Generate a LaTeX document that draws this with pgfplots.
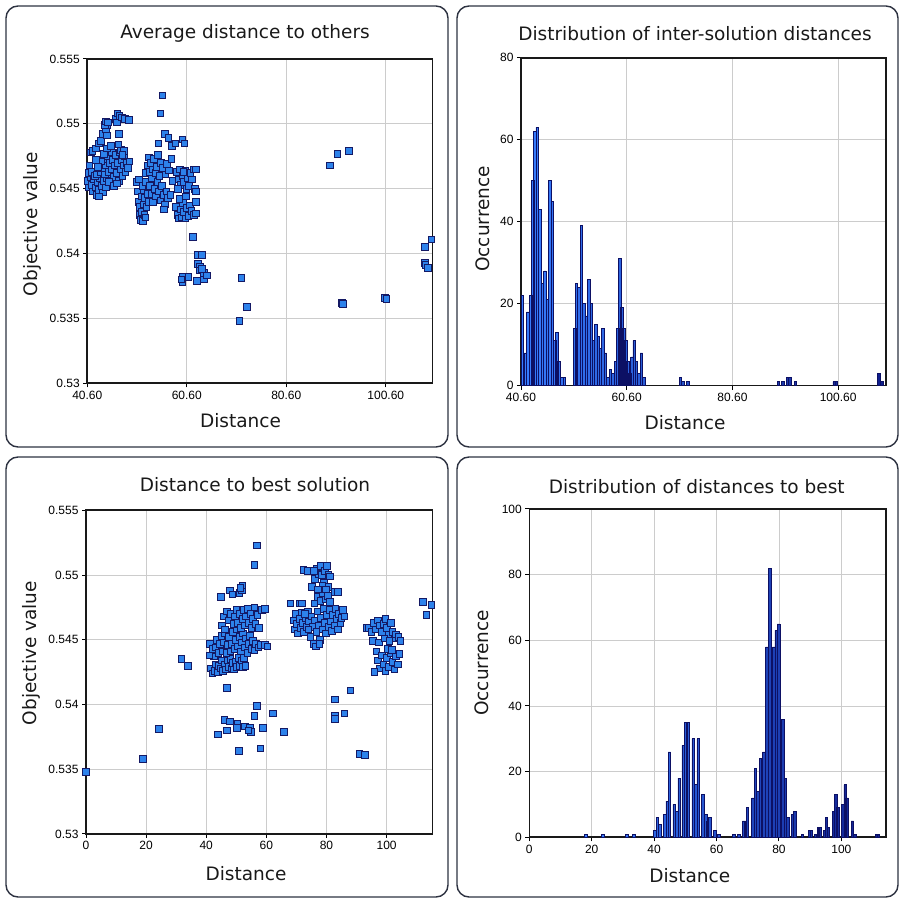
\documentclass[border=0pt]{standalone}
\usepackage{fontspec}
\setmainfont{DejaVu Sans}
\newfontfamily\tickfont{Liberation Sans}
\usepackage{pgfplots}
\pgfplotsset{compat=1.18}

\definecolor{ptfill}{RGB}{45,130,235}
\definecolor{ptedge}{RGB}{20,25,100}
\definecolor{barlight}{RGB}{55,125,255}
\definecolor{bardark}{RGB}{15,30,140}
\definecolor{baredge}{RGB}{12,16,100}
\definecolor{framec}{RGB}{45,50,65}

\pgfplotsset{
  panel/.style={
    scale only axis,
    anchor=south west,
    axis line style={line width=1.6pt, black!90},
    grid=major,
    grid style={line width=0.9pt, gray!40},
    xtick pos=bottom, ytick pos=left,
    tick align=outside,
    major tick length=4pt,
    tick style={line width=1pt, black},
    tick label style={font=\tickfont\fontsize{12}{13}\selectfont},
  },
  objy/.style={
    ymin=0.53, ymax=0.555,
    ytick={0.53,0.535,0.54,0.545,0.55,0.555},
    yticklabels={0.53,0.535,0.54,0.545,0.55,0.555},
  },
  pts/.style={only marks, mark=square*, mark size=3.3pt,
    mark options={fill=ptfill, draw=ptedge, line width=0.9pt}},
  bars/.style={ybar, draw=baredge, line width=0.7pt,
    left color=barlight, right color=bardark},
}
\tikzset{lab/.style={font=\fontsize{18.5}{20}\selectfont, black!90}}

\begin{document}
\begin{tikzpicture}[x=1pt,y=1pt]
\useasboundingbox (0,0) rectangle (900,900);

% panel frames
\draw[framec, line width=1.4pt, rounded corners=12pt] (6,453) rectangle (448,894);
\draw[framec, line width=1.4pt, rounded corners=12pt] (457,453) rectangle (898,894);
\draw[framec, line width=1.4pt, rounded corners=12pt] (6,3) rectangle (448,443);
\draw[framec, line width=1.4pt, rounded corners=12pt] (457,3) rectangle (898,443);

% ---------- top left: average distance to others
\begin{axis}[panel, objy, at={(87.3pt,516.7pt)}, width=345pt, height=324.3pt,
  xmin=40.6, xmax=109.95,
  xtick={40.6,60.6,80.6,100.6}, xticklabels={40.60,60.60,80.60,100.60},
  clip=false]
\addplot[pts] table {
x y
40.7 0.5456
40.9 0.5451
41.2 0.5459
41.4 0.5453
41.7 0.5448
41.9 0.5457
42.2 0.5451
42.4 0.5445
42.7 0.5455
42.9 0.5449
43.2 0.5458
43.5 0.5452
43.8 0.5447
44.0 0.5456
40.8 0.5462
41.5 0.5463
42.1 0.5460
42.6 0.5461
43.3 0.5463
44.3 0.5451
44.6 0.5458
43.0 0.5444
41.0 0.5468
41.3 0.5478
43.6 0.5466
43.9 0.5472
44.2 0.5461
44.4 0.5468
44.7 0.5475
44.9 0.5463
45.1 0.5470
45.3 0.5456
45.5 0.5478
45.6 0.5465
45.8 0.5472
46.0 0.5459
46.2 0.5468
46.4 0.5476
46.6 0.5462
46.8 0.5470
47.0 0.5456
47.1 0.5478
47.3 0.5465
47.5 0.5472
47.7 0.5460
47.9 0.5468
48.1 0.5475
48.3 0.5463
48.5 0.5470
48.8 0.5466
49.1 0.5471
44.0 0.5477
44.5 0.5481
45.0 0.5455
45.9 0.5452
46.5 0.5454
47.4 0.5480
48.0 0.5479
43.4 0.5471
42.8 0.5467
42.3 0.5472
45.4 0.5483
46.9 0.5484
47.7 0.5476
41.6 0.5479
42.3 0.5481
42.9 0.5485
43.3 0.5487
43.8 0.5492
44.5 0.5491
44.3 0.5496
44.6 0.5499
44.1 0.5499
44.3 0.5502
44.8 0.5501
47.0 0.5492
46.4 0.5504
46.7 0.5508
47.1 0.5506
46.5 0.5501
47.6 0.5505
48.2 0.5504
49.0 0.5503
50.5 0.5455
50.8 0.5448
51.0 0.5457
50.9 0.5440
51.2 0.5436
51.1 0.5430
51.4 0.5426
51.6 0.5432
51.8 0.5425
51.5 0.5444
51.9 0.5438
52.1 0.5430
52.3 0.5428
52.0 0.5449
52.2 0.5443
52.5 0.5436
51.7 0.5452
52.4 0.5455
52.7 0.5446
52.9 0.5440
52.3 0.5462
52.7 0.5468
53.0 0.5474
53.2 0.5463
53.4 0.5470
53.6 0.5458
53.8 0.5465
54.0 0.5473
54.3 0.5462
54.6 0.5467
53.2 0.5452
53.5 0.5446
53.8 0.5440
54.1 0.5450
54.4 0.5444
54.7 0.5455
55.0 0.5448
55.3 0.5441
55.6 0.5452
55.9 0.5445
56.2 0.5438
56.5 0.5448
56.8 0.5443
57.3 0.5445
55.1 0.5460
55.4 0.5470
55.8 0.5466
56.3 0.5461
56.6 0.5469
57.0 0.5464
57.5 0.5473
54.8 0.5476
57.7 0.5456
56.0 0.5434
55.7 0.5522
55.3 0.5508
56.2 0.5492
56.9 0.5489
54.9 0.5485
57.6 0.5483
58.3 0.5485
58.6 0.5463
58.9 0.5457
59.2 0.5465
59.4 0.5453
59.7 0.5460
60.0 0.5455
60.3 0.5464
60.5 0.5450
60.8 0.5458
61.0 0.5452
61.3 0.5462
58.8 0.5450
59.9 0.5463
61.6 0.5457
62.0 0.5465
62.4 0.5465
62.2 0.5450
58.4 0.5436
58.7 0.5430
59.0 0.5427
59.3 0.5434
59.5 0.5428
59.8 0.5439
60.0 0.5432
60.3 0.5427
60.6 0.5435
60.9 0.5429
59.1 0.5442
60.4 0.5444
61.2 0.5437
61.5 0.5433
62.0 0.5430
62.4 0.5431
62.4 0.5440
62.5 0.5448
59.7 0.5488
60.1 0.5485
61.8 0.5413
59.7 0.5382
59.7 0.5378
60.9 0.5382
62.6 0.5379
59.5 0.5380
62.8 0.5399
63.6 0.5399
62.8 0.5392
63.2 0.5390
63.3 0.5387
64.0 0.5385
64.1 0.5380
64.6 0.5383
63.7 0.5388
71.6 0.5381
72.7 0.5359
71.2 0.5348
89.4 0.5468
90.9 0.5477
93.2 0.5479
91.8 0.5362
92.0 0.5361
100.4 0.5366
100.7 0.5365
108.5 0.5405
109.8 0.5411
108.5 0.5393
108.6 0.5391
109.1 0.5389
};
\end{axis}

% ---------- top right: distribution of inter-solution distances
\begin{axis}[panel, at={(521pt,514.3pt)}, width=364.7pt, height=328pt,
  xmin=40.6, xmax=109.6, ymin=0, ymax=80,
  xtick={40.6,60.6,80.6,100.6}, xticklabels={40.60,60.60,80.60,100.60},
  ytick={0,20,40,60,80}, yticklabels={0,20,40,60,80},
  bar width=0.47]
\addplot[bars] table {
x h
40.88 22
41.42 8
41.92 18
42.43 22
42.87 50
43.25 62
43.66 63
44.13 43
44.64 25
45.14 28
45.58 21
46.03 50
46.53 45
46.97 11
47.35 13
47.79 6
48.30 2
48.80 2
50.76 14
51.10 25
51.55 24
52.02 39
52.49 20
52.93 17
53.41 26
53.88 20
54.29 11
54.73 15
55.21 12
55.65 9
56.09 14
56.56 8
57.07 2
57.51 4
57.95 3
58.45 6
58.90 14
59.28 31
59.69 19
60.10 14
60.47 11
60.85 6
61.23 3
61.61 7
62.02 11
62.46 6
62.90 3
63.38 8
63.88 2
70.79 2
71.23 1
72.21 1
89.31 1
90.16 1
91.00 2
91.45 2
92.52 1
99.85 1
100.30 1
108.30 3
108.86 1
};
\end{axis}

% ---------- bottom left: distance to best solution
\begin{axis}[panel, objy, at={(86pt,66pt)}, width=346.3pt, height=323.7pt,
  xmin=0, xmax=115.2,
  xtick={0,20,40,60,80,100}, xticklabels={0,20,40,60,80,100},
  clip=false]
\addplot[pts] table {
x y
0.0 0.5348
19.0 0.5358
24.2 0.5381
31.8 0.5435
33.9 0.5430
41.3 0.5447
42.0 0.5443
42.5 0.5437
41.5 0.5428
42.0 0.5424
42.8 0.5426
43.3 0.5431
43.8 0.5425
44.3 0.5430
44.8 0.5428
45.2 0.5434
45.6 0.5426
46.0 0.5431
46.5 0.5427
47.0 0.5434
47.5 0.5429
48.0 0.5435
48.4 0.5428
48.9 0.5432
49.3 0.5427
49.8 0.5433
50.3 0.5429
50.7 0.5436
51.2 0.5430
51.7 0.5434
52.2 0.5429
52.6 0.5436
53.1 0.5430
43.0 0.5444
43.6 0.5450
44.1 0.5440
44.6 0.5447
45.0 0.5453
45.4 0.5441
45.9 0.5448
46.3 0.5455
46.7 0.5440
47.1 0.5446
47.6 0.5452
48.0 0.5441
48.5 0.5447
48.9 0.5456
49.4 0.5443
49.8 0.5450
50.2 0.5458
50.6 0.5445
51.0 0.5452
51.5 0.5441
51.9 0.5448
52.3 0.5455
52.8 0.5444
53.2 0.5451
53.7 0.5440
54.1 0.5447
54.6 0.5453
55.0 0.5443
55.5 0.5449
56.0 0.5442
56.6 0.5447
57.3 0.5444
58.0 0.5446
59.5 0.5446
60.3 0.5445
45.3 0.5461
45.7 0.5468
46.2 0.5458
46.8 0.5472
47.5 0.5465
48.2 0.5470
49.0 0.5462
49.5 0.5468
50.0 0.5473
50.5 0.5463
51.0 0.5470
51.5 0.5459
52.0 0.5466
52.4 0.5473
52.9 0.5461
53.3 0.5468
53.8 0.5474
54.2 0.5463
54.7 0.5470
55.1 0.5459
55.6 0.5466
56.0 0.5475
56.4 0.5462
57.0 0.5469
57.5 0.5459
58.6 0.5473
59.5 0.5474
44.8 0.5483
47.9 0.5488
48.7 0.5485
51.0 0.5486
51.8 0.5488
52.0 0.5492
51.4 0.5490
41.0 0.5438
46.8 0.5413
56.9 0.5523
56.1 0.5508
46.0 0.5388
47.9 0.5387
46.8 0.5380
50.4 0.5385
50.3 0.5382
52.9 0.5383
54.6 0.5382
54.8 0.5379
54.0 0.5380
43.9 0.5377
50.8 0.5364
58.0 0.5366
56.9 0.5399
56.0 0.5391
62.1 0.5393
65.9 0.5379
58.9 0.5382
68.0 0.5478
71.2 0.5478
71.9 0.5478
72.3 0.5504
73.6 0.5503
69.0 0.5465
69.4 0.5458
69.8 0.5470
70.2 0.5462
70.6 0.5455
71.0 0.5466
71.4 0.5459
71.8 0.5471
72.2 0.5463
72.6 0.5456
73.0 0.5467
73.4 0.5460
73.8 0.5472
74.2 0.5464
74.6 0.5452
75.0 0.5468
75.4 0.5460
75.8 0.5447
76.2 0.5465
76.6 0.5456
77.0 0.5472
77.4 0.5461
77.8 0.5450
78.2 0.5467
78.6 0.5458
79.0 0.5474
79.4 0.5463
79.8 0.5455
80.2 0.5469
80.6 0.5460
81.0 0.5473
81.4 0.5464
81.8 0.5457
82.2 0.5469
82.6 0.5461
83.0 0.5474
83.4 0.5466
83.8 0.5458
84.2 0.5470
84.6 0.5463
85.0 0.5467
85.4 0.5473
86.0 0.5468
76.0 0.5478
77.2 0.5483
78.0 0.5480
78.8 0.5486
79.6 0.5481
80.4 0.5484
81.2 0.5479
76.5 0.5445
77.6 0.5447
72.8 0.5470
74.0 0.5458
75.1 0.5491
76.2 0.5497
76.9 0.5505
77.5 0.5501
78.2 0.5507
78.5 0.5500
79.1 0.5494
79.5 0.5503
80.1 0.5507
80.6 0.5500
81.2 0.5499
82.8 0.5487
83.9 0.5487
78.7 0.5492
80.6 0.5491
77.2 0.5489
79.9 0.5489
75.9 0.5503
82.9 0.5404
82.9 0.5391
82.9 0.5389
86.0 0.5393
88.0 0.5411
90.9 0.5362
92.8 0.5361
93.4 0.5459
94.2 0.5459
95.0 0.5456
95.8 0.5463
96.5 0.5458
97.1 0.5465
97.8 0.5461
98.4 0.5456
99.0 0.5462
99.6 0.5466
100.2 0.5459
100.8 0.5454
101.4 0.5463
102.0 0.5456
102.6 0.5451
103.2 0.5454
104.0 0.5452
104.6 0.5449
95.5 0.5449
97.5 0.5448
99.3 0.5451
101.0 0.5449
96.6 0.5441
97.2 0.5434
97.8 0.5428
98.4 0.5438
99.0 0.5431
99.6 0.5426
100.2 0.5436
100.8 0.5429
101.4 0.5440
102.0 0.5433
102.6 0.5427
103.2 0.5437
103.7 0.5431
104.3 0.5439
100.5 0.5443
101.8 0.5442
95.9 0.5425
112.0 0.5479
114.9 0.5477
113.2 0.5469
};
\end{axis}

% ---------- bottom right: distribution of distances to best
\begin{axis}[panel, at={(529.3pt,62.7pt)}, width=356.4pt, height=328.3pt,
  xmin=0, xmax=114.2, ymin=0, ymax=100,
  xtick={0,20,40,60,80,100}, xticklabels={0,20,40,60,80,100},
  ytick={0,20,40,60,80,100}, yticklabels={0,20,40,60,80,100},
  bar width=0.8]
\addplot[bars] table {
x h
18.1 1
23.6 1
31.3 1
33.5 1
40.2 2
41.1 6
41.8 4
43.4 7
44.2 11
44.9 26
46.4 10
47.2 8
48.0 18
49.3 28
50.1 35
50.8 35
52.5 30
53.4 16
54.1 30
55.6 13
56.5 7
57.1 5
57.9 6
59.4 2
60.8 1
65.6 1
67.1 1
68.7 5
69.3 5
69.9 9
71.7 12
72.5 21
73.2 14
74.0 24
75.2 26
76.1 58
77.0 82
78.3 58
79.1 63
79.9 65
81.3 36
82.1 18
82.9 6
84.3 7
85.1 8
87.5 1
89.8 2
90.4 2
91.7 1
92.6 3
93.1 3
94.6 2
95.2 6
95.9 3
97.5 8
98.3 13
98.8 9
100.4 10
101.2 16
101.8 12
103.5 5
104.3 1
111.2 1
111.9 1
};
\end{axis}

% titles and axis labels
\node[lab] at (245,867) {Average distance to others};
\node[lab, rotate=90] at (32,676) {Objective value};
\node[lab] at (240.5,479.3) {Distance};

\node[lab] at (695,866) {Distribution of inter-solution distances};
\node[lab, rotate=90] at (483,681) {Occurrence};
\node[lab] at (685,477.3) {Distance};

\node[lab] at (255,415) {Distance to best solution};
\node[lab, rotate=90] at (31,247) {Objective value};
\node[lab] at (246,26) {Distance};

\node[lab] at (696.7,413) {Distribution of distances to best};
\node[lab, rotate=90] at (482,237) {Occurrence};
\node[lab] at (689.7,24.3) {Distance};
\end{tikzpicture}
\end{document}
